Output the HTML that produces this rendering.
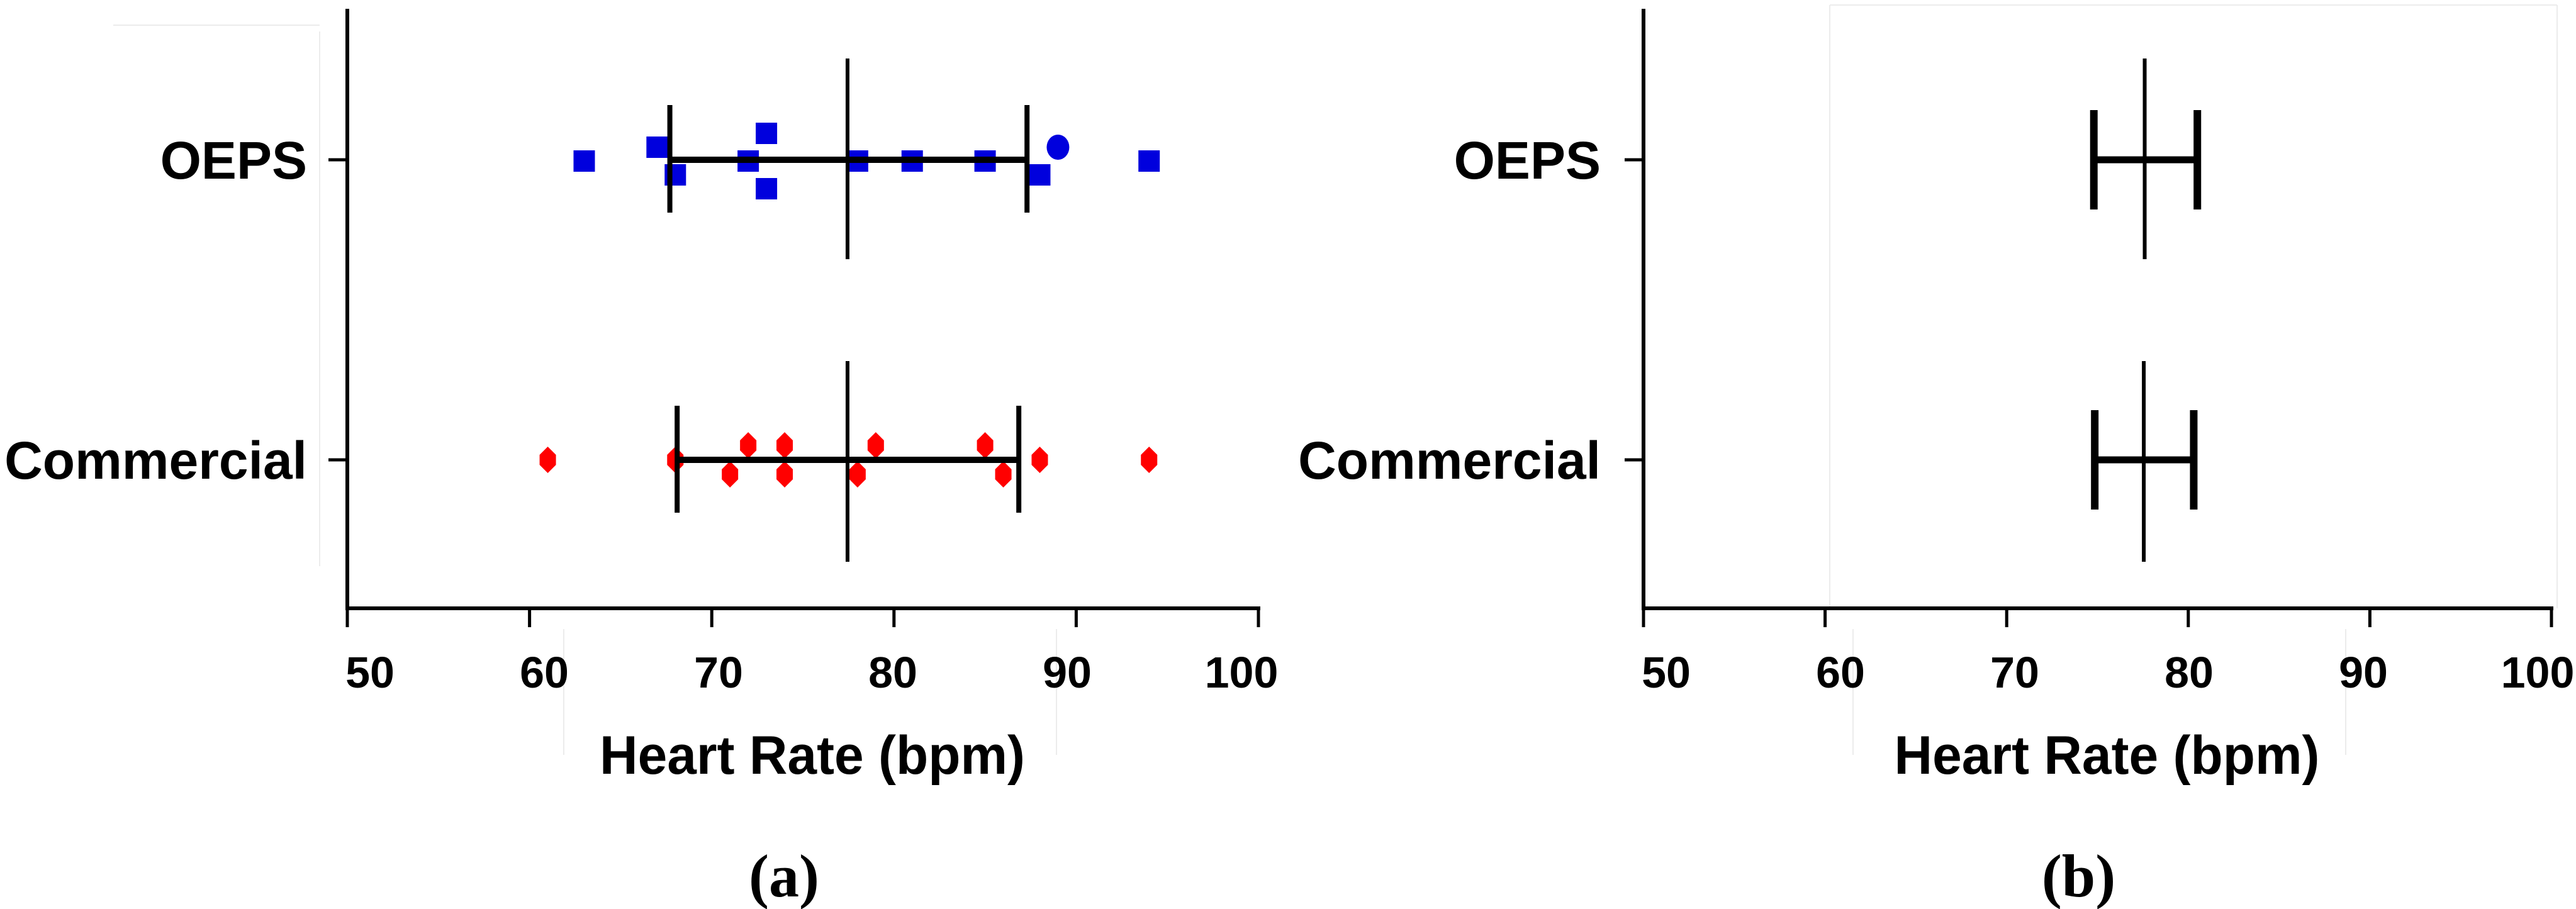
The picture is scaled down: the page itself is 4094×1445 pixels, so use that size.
<!DOCTYPE html>
<html><head><meta charset="utf-8"><style>
html,body{margin:0;padding:0;background:#fff;}
svg{display:block;}
</style></head><body>
<svg id="fig" width="4094" height="1445" viewBox="0 0 4094 1445" xmlns="http://www.w3.org/2000/svg" font-family="Liberation Sans, Arial, sans-serif"></svg>
<script>
// ---- data ----
const groups = ["OEPS", "Commercial"];
const xTicks = [50, 60, 70, 80, 90, 100];
const xTickLabels = ["50", "60", "70", "80", "90", "100"];
const oepsValues = [63, 67, 68, 73, 72, 73, 78, 81, 85, 88, 89, 94];
const oepsJitter = [0, -1, 1, -2, 0, 2, 0, 0, 0, 1, -1, 0];
const oepsShape = ["sq","sq","sq","sq","sq","sq","sq","sq","sq","sq","ci","sq"];
const commValues = [61, 68, 72, 74, 71, 74, 79, 78, 85, 86, 88, 94];
const commJitter = [0, 0, -1, -1, 1, 1, -1, 1, -1, 1, 0, 0];
const rangeMean = [77.45, 77.45];
const rangeLow = [67.7, 68.1];
const rangeHigh = [87.3, 86.85];
const ciMean = [77.6, 77.55];
const ciLow = [74.8, 74.85];
const ciHigh = [80.5, 80.3];

const NS = "http://www.w3.org/2000/svg";
const svg = document.getElementById('fig');
function mk(tag, attrs, parent) {
  const e = document.createElementNS(NS, tag);
  for (const k in attrs) e.setAttribute(k, attrs[k]);
  (parent || svg).appendChild(e);
  return e;
}
const groupY = [254, 731];
const axisY = 967;
const axisTop = 14;

function panel(x0, x1, tag, labelRight, caption) {
  const g = mk('g', {});
  
  
  const sx = v => x0 + (v - 50) * (x1 - x0) / 50;
  const lx = v => x0 + 36 + (v - 50) * 27.7;
  let e = mk('line', {x1: x0, y1: axisTop, x2: x0, y2: axisY + 3, stroke: '#000', 'stroke-width': 6}, g);
  
  
  e = mk('line', {x1: x0 - 3, y1: axisY, x2: x1 + 3, y2: axisY, stroke: '#000', 'stroke-width': 6}, g);
  
  
  xTicks.forEach((v, i) => {
    const t = mk('line', {x1: sx(v), y1: axisY, x2: sx(v), y2: 997, stroke: '#000', 'stroke-width': 5}, g);
    
    
    const l = mk('text', {x: lx(v), y: 1093, 'font-size': 70, 'font-weight': 'bold', 'text-anchor': 'middle'}, g);
    
    
    l.textContent = xTickLabels[i];
  });
  groups.forEach((name, i) => {
    const t = mk('line', {x1: x0 - 30, y1: groupY[i], x2: x0, y2: groupY[i], stroke: '#000', 'stroke-width': 5}, g);
    
    
    const l = mk('text', {x: labelRight, y: groupY[i] + 30, 'font-size': 84, 'font-weight': 'bold', 'text-anchor': 'end'}, g);
    
    
    l.textContent = name;
  });
  const cx = (sx(50) + sx(100)) / 2 - 15 + 30;
  const at = mk('text', {x: cx, y: 1230, 'font-size': 86, 'font-weight': 'bold', 'text-anchor': 'middle', textLength: 676, lengthAdjust: 'spacingAndGlyphs'}, g);
  
  
  at.textContent = 'Heart Rate (bpm)';
  const cap = mk('text', {x: cx - 45, y: 1425, 'font-size': 96, 'font-weight': 'bold', 'text-anchor': 'middle', 'font-family': 'Liberation Serif, serif'}, g);
  
  
  cap.textContent = caption;
  return {g, sx};
}

// faint guide lines
[[508,50,508,900],[180,40,508,40],[896,1000,896,1200],[1679,1000,1679,1200],[2908,8,2908,967],[2908,8,4064,8],[4064,8,4064,967],[2945,1000,2945,1200],[3728,1000,3728,1200]].forEach(c => {
  const f = mk('line', {x1: c[0], y1: c[1], x2: c[2], y2: c[3], stroke: '#ececec', 'stroke-width': 2});
  
  
});

const A = panel(552, 2000, 'a', 488, '(a)');
const B = panel(2612, 4055, 'b', 2544, '(b)');

const jStep = 22;
oepsValues.forEach((v, i) => {
  const x = A.sx(v), y = groupY[0] + 2 + oepsJitter[i] * jStep;
  let p;
  if (oepsShape[i] === 'ci') p = mk('ellipse', {cx: x, cy: y, rx: 18, ry: 20, fill: '#0000dd'}, A.g);
  else p = mk('rect', {x: x - 17, y: y - 17, width: 34, height: 34, fill: '#0000dd'}, A.g);
  
  
});
commValues.forEach((v, i) => {
  const x = A.sx(v), y = groupY[1] + commJitter[i] * 23;
  const p = mk('polygon', {points: `${x},${y-21} ${x+13},${y-8} ${x+13},${y+8} ${x},${y+21} ${x-13},${y+8} ${x-13},${y-8}`, fill: '#ff0000'}, A.g);
  
  
});
const meanSpanA = [[93, 412], [574, 893]];
const capSpanA = [[167, 338], [645, 815]];
groups.forEach((n, i) => {
  const y = groupY[i];
  let e = mk('line', {x1: A.sx(rangeLow[i]), y1: y, x2: A.sx(rangeHigh[i]), y2: y, stroke: '#000', 'stroke-width': 10}, A.g);
  
  
  [rangeLow[i], rangeHigh[i]].forEach(v => {
    const c = mk('line', {x1: A.sx(v), y1: capSpanA[i][0], x2: A.sx(v), y2: capSpanA[i][1], stroke: '#000', 'stroke-width': 8}, A.g);
    
    
  });
  const m = mk('line', {x1: A.sx(rangeMean[i]), y1: meanSpanA[i][0], x2: A.sx(rangeMean[i]), y2: meanSpanA[i][1], stroke: '#000', 'stroke-width': 6}, A.g);
  
  
});
const capSpanB = [[175, 333], [652, 810]];
groups.forEach((n, i) => {
  const y = groupY[i];
  let e = mk('line', {x1: B.sx(ciLow[i]), y1: y, x2: B.sx(ciHigh[i]), y2: y, stroke: '#000', 'stroke-width': 11}, B.g);
  
  
  [ciLow[i], ciHigh[i]].forEach(v => {
    const c = mk('line', {x1: B.sx(v), y1: capSpanB[i][0], x2: B.sx(v), y2: capSpanB[i][1], stroke: '#000', 'stroke-width': 12}, B.g);
    
    
  });
  const m = mk('line', {x1: B.sx(ciMean[i]), y1: meanSpanA[i][0], x2: B.sx(ciMean[i]), y2: meanSpanA[i][1], stroke: '#000', 'stroke-width': 6}, B.g);
  
  
});
</script>
</body></html>
